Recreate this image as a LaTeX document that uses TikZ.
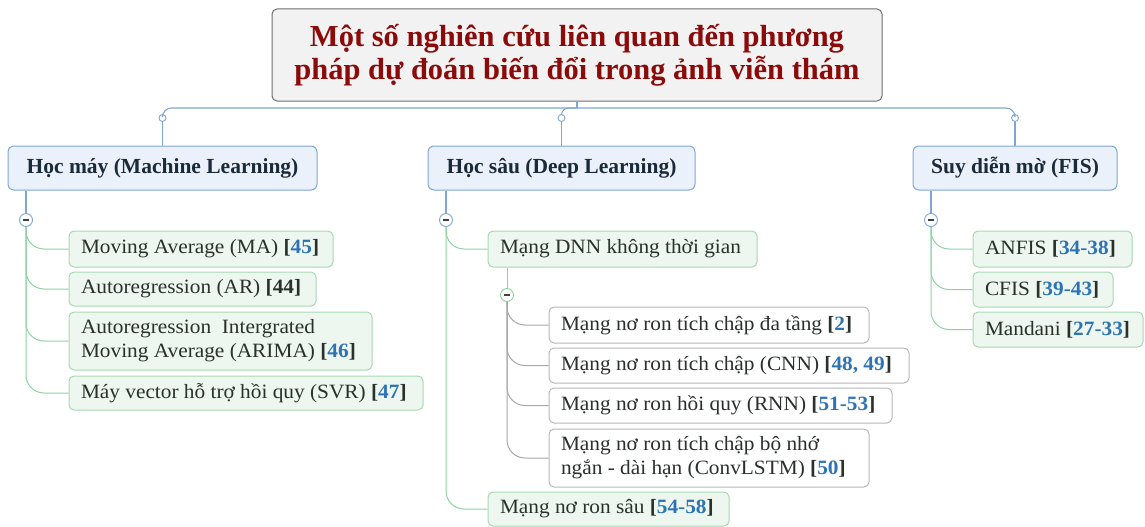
\documentclass[tikz,border=0pt]{standalone}
\usepackage{fontspec}
\setmainfont{Liberation Serif}
\newfontfamily\leaffont[FakeStretch=1.05]{Liberation Serif}
\usetikzlibrary{calc}

\definecolor{rootfill}{HTML}{F2F2F2}
\definecolor{rootdraw}{HTML}{6E6E6E}
\definecolor{titlered}{HTML}{8B0A0A}
\definecolor{catfill}{HTML}{EAF1FA}
\definecolor{catdraw}{HTML}{7FA6D6}
\definecolor{cattext}{HTML}{1B2A38}
\definecolor{leaffill}{HTML}{EDF6EF}
\definecolor{leafdraw}{HTML}{A5D9B2}
\definecolor{leaftext}{HTML}{2A302C}
\definecolor{subdraw}{HTML}{B8B8B8}
\definecolor{bluelink}{HTML}{7FA6D6}
\definecolor{greenlink}{HTML}{8ED3A2}
\definecolor{graylink}{HTML}{A8A8A8}
\definecolor{refblue}{HTML}{2E74B5}

% reference numbers: dark bold brackets, blue bold numbers
\newcommand{\rf}[1]{\textbf{[\textcolor{refblue}{#1}]}}
% one unbreakable line of box text
\newcommand{\boxline}[1]{\mbox{#1}}

\begin{document}
\begin{tikzpicture}[x=1pt,y=-1pt,
  rootbox/.style={draw=rootdraw, fill=rootfill, rounded corners=5pt, line width=1pt,
    minimum width=610pt, minimum height=92pt, inner sep=0pt, align=center,
    text=titlered, font=\fontsize{30.5}{33}\selectfont\bfseries},
  catbox/.style={draw=catdraw, fill=catfill, rounded corners=6pt, line width=1pt,
    minimum height=44pt, inner sep=0pt, align=center,
    text=cattext, font=\fontsize{21.5}{24}\selectfont\bfseries},
  leafbox/.style={draw=leafdraw, fill=leaffill, rounded corners=5pt, line width=1pt,
    inner xsep=12pt, inner ysep=0pt, align=flush left,
    text=leaftext, font=\leaffont\fontsize{20.3}{24}\selectfont},
  % outer width of a box; the text column is the width less the side padding
  wd/.code={\pgfmathsetlengthmacro\boxtextwd{#1-24pt}%
    \edef\boxsetwd{\noexpand\tikzset{minimum width=#1, text width=\boxtextwd}}\boxsetwd},
  subbox/.style={leafbox, draw=subdraw, fill=white},
  dot/.style={circle, draw=bluelink, fill=white, line width=0.9pt, minimum size=7pt, inner sep=0pt},
  collapse/.style={circle, draw=#1, fill=white, line width=0.9pt, minimum size=13pt, inner sep=0pt,
    path picture={\draw[line width=1.1pt, black!75]
      ([xshift=-3.2pt]path picture bounding box.center) -- ([xshift=3.2pt]path picture bounding box.center);}},
  blink/.style={draw=bluelink, line width=1.1pt},
  glink/.style={draw=greenlink, line width=1pt},
  ylink/.style={draw=graylink, line width=1pt}
]
\useasboundingbox (0,0) rectangle (1145,527);

% title
\node[rootbox] (root) at (577,55) {Một số nghiên cứu liên quan đến phương\\pháp dự đoán biến đổi trong ảnh viễn thám};

% main branches
\node[catbox, minimum width=309pt] (hm)  at (162.5,168) {Học máy (Machine Learning)};
\node[catbox, minimum width=267pt] (hs)  at (561.5,168) {Học sâu (Deep Learning)};
\node[catbox, minimum width=204pt] (fis) at (1015,168)  {Suy diễn mờ (FIS)};

% junction dots above the branches
\coordinate (bar) at (577,108);
\node[dot] (t1) at (162.5,118) {};
\node[dot] (t2) at (561.5,118) {};
\node[dot] (t3) at (1015,118) {};

\draw[blink] (root.south) -- (bar);
\draw[blink, rounded corners=9pt] (t1.north) |- (bar) -| (t3.north);
\draw[blink, rounded corners=7pt] (bar) -| (t2.north);
\draw[blink] (t1.south) -- (hm.north);
\draw[blink] (t2.south) -- (hs.north);
\draw[blink] (t3.south) -- (fis.north);

% collapse buttons
\node[collapse=bluelink] (c1) at (26,220) {};
\node[collapse=bluelink] (c2) at (446,220) {};
\node[collapse=bluelink] (c3) at (931,220) {};
\draw[blink] (c1.north) -- (c1.north |- hm.south);
\draw[blink] (c2.north) -- (c2.north |- hs.south);
\draw[blink] (c3.north) -- (c3.north |- fis.south);

% machine learning
\node[leafbox, wd=264pt, minimum height=36pt] (ma)    at (201,249)   {\boxline{Moving Average (MA) \rf{45}}};
\node[leafbox, wd=247pt, minimum height=34pt] (ar)    at (192.5,289) {\boxline{Autoregression (AR) \textbf{[44]}}};
\node[leafbox, wd=303pt, minimum height=58pt] (arima) at (220.5,341) {\boxline{Autoregression\ \ Intergrated}\\\boxline{Moving Average (ARIMA) \rf{46}}};
\node[leafbox, wd=354pt, minimum height=34pt] (svr)   at (246,393)   {\boxline{Máy vector hỗ trợ hồi quy (SVR) \rf{47}}};

\foreach \n in {ma,ar,arima,svr}
  \draw[glink, rounded corners=18pt] (c1.south) |- (\n.west);

% deep learning
\node[leafbox, wd=269pt, minimum height=36pt] (dnn)  at (622.5,249) {\boxline{Mạng DNN không thời gian}};
\node[leafbox, wd=241pt, minimum height=34pt] (deep) at (608.5,509) {\boxline{Mạng nơ ron sâu \rf{54-58}}};
\node[collapse=greenlink] (c4) at (507,295) {};
\draw[glink] (c4.north) -- (c4.north |- dnn.south);

\node[subbox, wd=320pt, minimum height=36pt] (d1) at (709,325)     {\boxline{Mạng nơ ron tích chập đa tầng \rf{2}}};
\node[subbox, wd=360pt, minimum height=35pt] (d2) at (729,365.5)   {\boxline{Mạng nơ ron tích chập (CNN) \rf{48, 49}}};
\node[subbox, wd=343pt, minimum height=35pt] (d3) at (720.5,405.5) {\boxline{Mạng nơ ron hồi quy (RNN) \rf{51-53}}};
\node[subbox, wd=320pt, minimum height=58pt] (d4) at (709,458)     {\boxline{Mạng nơ ron tích chập bộ nhớ}\\\boxline{ngắn - dài hạn (ConvLSTM) \rf{50}}};

\draw[glink, rounded corners=18pt] (c2.south) |- (dnn.west);
\draw[glink, rounded corners=18pt] (c2.south) |- (deep.west);
\foreach \n in {d1,d2,d3,d4}
  \draw[ylink, rounded corners=18pt] (c4.south) |- (\n.west);

% fuzzy inference
\node[leafbox, wd=159pt, minimum height=36pt] (anfis) at (1052.5,249) {\boxline{ANFIS \rf{34-38}}};
\node[leafbox, wd=140pt, minimum height=35pt] (cfis)  at (1043,289.5)  {\boxline{CFIS \rf{39-43}}};
\node[leafbox, wd=170pt, minimum height=35pt] (mand)  at (1058,329.5)  {\boxline{Mandani \rf{27-33}}};

\foreach \n in {anfis,cfis,mand}
  \draw[glink, rounded corners=18pt] (c3.south) |- (\n.west);
\end{tikzpicture}
\end{document}
